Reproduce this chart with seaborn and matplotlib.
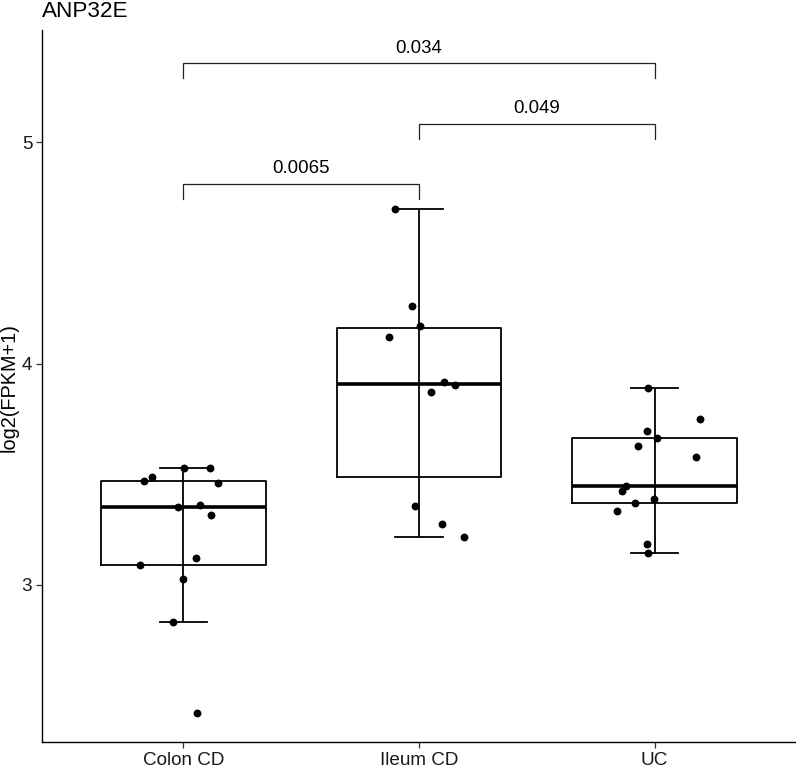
import numpy as np
import pandas as pd
import seaborn as sns
import matplotlib.pyplot as plt

# ---------------- data ----------------
groups = ["Colon CD", "Ileum CD", "UC"]

colon_cd = [3.530, 3.527, 3.488, 3.468, 3.459, 3.352, 3.360, 3.315,
            3.122, 3.092, 3.026, 2.833, 2.421]
colon_cd_jitter = [0.003, 0.112, -0.135, -0.167, 0.145, -0.024, 0.071, 0.118,
                   0.054, -0.182, 0.000, -0.044, 0.057]

ileum_cd = [4.696, 4.260, 4.171, 4.121, 3.916, 3.902, 3.873, 3.358, 3.277, 3.217]
ileum_cd_jitter = [-0.100, -0.031, 0.003, -0.129, 0.104, 0.153, 0.050,
                   -0.015, 0.097, 0.193]

uc = [3.889, 3.751, 3.697, 3.664, 3.629, 3.579, 3.447, 3.423, 3.388,
      3.372, 3.334, 3.187, 3.146]
uc_jitter = [-0.027, 0.193, -0.031, 0.008, -0.072, 0.174, -0.123, -0.140,
             -0.001, -0.085, -0.158, -0.032, -0.027]

comp_left = ["Colon CD", "Ileum CD", "Colon CD"]
comp_right = ["Ileum CD", "UC", "UC"]
p_values = ["0.0065", "0.049", "0.034"]

title = "ANP32E"
ylabel = "log2(FPKM+1)"

# ---------------- layout ----------------
bracket_levels = [4.81, 5.081, 5.355]
tip_len = 0.067

df = pd.DataFrame({
    "group": (["Colon CD"] * len(colon_cd) + ["Ileum CD"] * len(ileum_cd)
              + ["UC"] * len(uc)),
    "value": colon_cd + ileum_cd + uc,
    "jitter": colon_cd_jitter + ileum_cd_jitter + uc_jitter,
})
pos = {g: i for i, g in enumerate(groups)}
df["xpos"] = df["group"].map(pos) + df["jitter"]

plt.rcParams["font.family"] = ["Liberation Sans", "DejaVu Sans"]

W, H = 796, 769
fig = plt.figure(figsize=(W / 100, H / 100), dpi=100)
ax = fig.add_axes([42 / W, 1 - 742 / H, (W - 42) / W, (742 - 30) / H])

lw = 1.3
sns.boxplot(data=df, x="group", y="value", order=groups, ax=ax,
            fill=False, color="black", linecolor="black", width=0.7,
            linewidth=lw, showfliers=False, capwidths=0.2,
            medianprops=dict(linewidth=2.6, color="black"),
            whiskerprops=dict(linewidth=lw, color="black"),
            capprops=dict(linewidth=lw, color="black"),
            boxprops=dict(linewidth=lw, color="black"))

# whisker line passes through the box (errorbar drawn over the box)
for g in groups:
    v = np.asarray(df.loc[df.group == g, "value"])
    q1, q3 = np.percentile(v, [25, 75])
    ax.vlines(pos[g], q1, q3, color="black", linewidth=lw, zorder=3)

sns.scatterplot(data=df, x="xpos", y="value", ax=ax, color="black",
                s=32, linewidth=0, zorder=5, legend=False)

# significance brackets
for l, r, p, yb in zip(comp_left, comp_right, p_values, bracket_levels):
    x0, x1 = pos[l], pos[r]
    ax.plot([x0, x0, x1, x1], [yb - tip_len, yb, yb, yb - tip_len],
            color="#222222", linewidth=0.9, solid_joinstyle="miter")
    ax.text((x0 + x1) / 2, yb + 0.03, p, ha="center", va="bottom",
            fontsize=13.4, color="black")

ax.set_xlim(-0.6, 2.6)
ax.set_ylim(2.291, 5.506)
ax.set_yticks([3, 4, 5])
ax.set_yticklabels(["3", "4", "5"])
ax.set_xticks(range(len(groups)))
ax.set_xticklabels(groups)
ax.set_xlabel("")
ax.set_ylabel("")
for s in ["top", "right"]:
    ax.spines[s].set_visible(False)
for s in ["left", "bottom"]:
    ax.spines[s].set_linewidth(1.0)
    ax.spines[s].set_color("black")
ax.tick_params(axis="both", length=4, width=0.9, color="#333333",
               labelsize=13.6, labelcolor="#1a1a1a", pad=3)
ax.grid(False)

fig.text(42 / W, 1 - 1 / H, title, ha="left", va="top", fontsize=16.2,
         color="black")
fig.text(0 / W, 1 - 388 / H, ylabel, ha="left", va="center",
         rotation=90, fontsize=14.3, color="black")

fig.savefig("out.png", dpi=100)
